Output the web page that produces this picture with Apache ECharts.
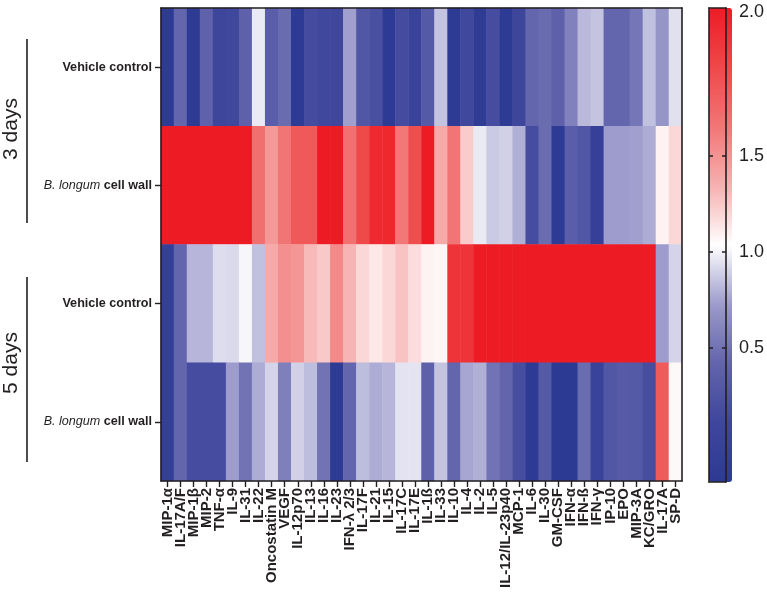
<!DOCTYPE html>
<html><head><meta charset="utf-8">
<script src="https://cdn.jsdelivr.net/npm/echarts@6/dist/echarts.min.js"></script>
<style>html,body{margin:0;padding:0;background:#fff}#c{width:767px;height:594px}</style>
</head><body><div id="c"></div>
<script>
// ---- data ----
const cytokines = ['MIP-1α','IL-17A/F','MIP-1β','MIP-2','TNF-α','IL-9','IL-31','IL-22','Oncostatin M','VEGF',
  'IL-12p70','IL-13','IL-16','IL-23','IFN-λ 2/3','IL-17F','IL-21','IL-15','IL-17C','IL-17E',
  'IL-1ß','IL-33','IL-10','IL-4','IL-2','IL-5','IL-12/IL-23p40','MCP-1','IL-6','IL-30',
  'GM-CSF','IFN-α','IFN-ß','IFN-γ','IP-10','EPO','MIP-3A','KC/GRO','IL-17A','SP-D'];
const rowKeys = ['3 days|Vehicle control','3 days|B. longum cell wall','5 days|Vehicle control','5 days|B. longum cell wall'];
const groupLabels = ['3 days','5 days'];

const day3Vehicle = [-0.18,0.43,-0.18,0.39,0.10,0.13,0.38,0.97,0.35,0.46,
  -0.18,0.17,0.13,0.12,0.74,0.28,0.20,-0.18,0.17,0.04,
  0.31,0.85,-0.18,0.13,-0.15,0.18,-0.18,0.10,0.43,0.46,
  0.38,0.58,0.82,0.85,0.43,0.43,0.52,0.84,0.69,0.94];
const day3BLongum = [2.27,2.27,2.27,2.27,2.27,2.27,2.27,1.70,1.47,1.66,
  1.85,1.85,2.27,2.27,1.69,1.95,2.17,2.18,1.64,1.92,
  2.27,1.38,1.66,1.24,0.97,0.87,0.89,0.79,0.18,0.46,
  -0.18,0.35,0.28,-0.04,0.73,0.73,0.74,0.78,1.085,1.19];
const day5Vehicle = [-0.07,0.43,0.81,0.81,0.93,0.92,1.01,0.84,1.38,1.52,
  1.48,1.31,1.25,1.55,1.33,1.19,1.13,1.19,1.27,1.17,
  1.08,1.07,2.10,2.10,2.27,2.27,2.27,2.27,2.27,2.27,
  2.27,2.27,2.27,2.27,2.27,2.27,2.27,2.27,0.73,0.90];
const day5BLongum = [-0.07,0.43,0.18,0.18,0.18,0.73,0.50,0.78,0.90,0.57,
  0.89,0.83,0.50,-0.18,0.43,0.83,0.78,0.81,0.95,0.95,
  0.38,0.85,0.43,0.76,0.79,0.50,0.42,0.19,-0.18,0.31,
  -0.20,-0.20,0.46,0.04,0.28,0.32,0.31,0.19,1.84,1.06];

const colorbarTickValues = [0.5, 1.0, 1.5];
const colorbarTopLabelValue = 2.25;
const colorbarTopLabel = '2.0';
const colorbarMin = -0.2;
const colorbarMax = 2.27;
const colorStops = ['#2D3A93','#3E469C','#6264AC','#9C9BCC','#FFFFFF','#F7B0B0','#F27676','#EF4848','#ED1C24'];

// ---- build ----
const rows = [day3Vehicle, day3BLongum, day5Vehicle, day5BLongum];
const heatData = [];
rows.forEach((vals, r) => vals.forEach((v, c) => heatData.push([c, r, v])));

const FONT = "'Liberation Sans', Arial, Helvetica, sans-serif";
const INK = '#231F20';
const line = {show: true, onZero: false, lineStyle: {color: INK, width: 1.6}};

const chart = echarts.init(document.getElementById('c'), null, {renderer: 'canvas'});
chart.setOption({
  animation: false,
  backgroundColor: '#ffffff',
  textStyle: {fontFamily: FONT},
  grid: [
    {left: 161, top: 8, width: 521, height: 473},
    {left: 709, top: 8, width: 23, height: 474}
  ],
  xAxis: [
    {gridIndex: 0, type: 'category', data: cytokines, position: 'bottom', z: 10,
      axisLine: line,
      axisTick: {show: true, alignWithLabel: true, length: 6, lineStyle: {color: INK, width: 1.4}},
      axisLabel: {rotate: 90, interval: 0, margin: 7, fontFamily: FONT, fontWeight: 'bold', fontSize: 15, color: INK},
      splitLine: {show: false}},
    {gridIndex: 0, type: 'category', data: cytokines, position: 'top', z: 10,
      axisLine: line, axisTick: {show: false}, axisLabel: {show: false}, splitLine: {show: false}},
    {gridIndex: 1, type: 'value', min: 0, max: 1, position: 'bottom', z: 10,
      axisLine: line, axisTick: {show: false}, axisLabel: {show: false}, splitLine: {show: false}},
    {gridIndex: 1, type: 'value', min: 0, max: 1, position: 'top', z: 10,
      axisLine: line, axisTick: {show: false}, axisLabel: {show: false}, splitLine: {show: false}}
  ],
  yAxis: [
    {gridIndex: 0, type: 'category', data: rowKeys, inverse: true, position: 'left', z: 10,
      axisLine: line,
      axisTick: {show: true, alignWithLabel: true, length: 6, lineStyle: {color: INK, width: 1.4}},
      axisLabel: {margin: 9, color: INK,
        formatter: function (v) {
          const name = v.split('|')[1];
          if (name.indexOf('B. longum') === 0) return '{i|B. longum} {b|cell wall}';
          return '{b|' + name + '}';
        },
        rich: {
          b: {fontFamily: FONT, fontWeight: 'bold', fontSize: 12.6, color: INK},
          i: {fontFamily: FONT, fontStyle: 'italic', fontWeight: 'normal', fontSize: 12.6, color: INK}
        }},
      splitLine: {show: false}},
    {gridIndex: 0, type: 'category', data: rowKeys, inverse: true, position: 'right', z: 10,
      axisLine: line, axisTick: {show: false}, axisLabel: {show: false}, splitLine: {show: false}},
    {gridIndex: 1, type: 'value', min: colorbarMin, max: colorbarMax, position: 'left', z: 10,
      axisLine: line,
      axisTick: {show: true, inside: true, length: 4, customValues: colorbarTickValues, lineStyle: {color: INK, width: 1.5}},
      axisLabel: {show: false}, splitLine: {show: false}},
    {gridIndex: 1, type: 'value', min: colorbarMin, max: colorbarMax, position: 'right', z: 10,
      axisLine: line,
      axisTick: {show: true, inside: true, length: 4, customValues: colorbarTickValues, lineStyle: {color: INK, width: 1.5}},
      axisLabel: {show: true, customValues: colorbarTickValues.concat([colorbarTopLabelValue]), margin: 13,
        fontFamily: FONT, fontSize: 18, color: INK,
        formatter: function (v) { return v > 2 ? colorbarTopLabel : v.toFixed(1); }},
      splitLine: {show: false}}
  ],
  visualMap: {
    type: 'continuous', min: colorbarMin, max: colorbarMax, seriesIndex: 0,
    calculable: false, hoverLink: false, left: 709, top: 8, itemWidth: 23, itemHeight: 474,
    padding: 0, z: 2, inRange: {color: colorStops}
  },
  graphic: [
    {type: 'line', shape: {x1: 27, y1: 39, x2: 27, y2: 223}, style: {stroke: INK, lineWidth: 1.6}},
    {type: 'line', shape: {x1: 27, y1: 277, x2: 27, y2: 462}, style: {stroke: INK, lineWidth: 1.6}},
    {type: 'text', x: 11, y: 129, rotation: Math.PI / 2,
      style: {text: groupLabels[0], font: '21px ' + FONT, fill: INK, align: 'center', verticalAlign: 'middle'}},
    {type: 'text', x: 11, y: 363, rotation: Math.PI / 2,
      style: {text: groupLabels[1], font: '21px ' + FONT, fill: INK, align: 'center', verticalAlign: 'middle'}}
  ],
  series: [{
    type: 'heatmap', xAxisIndex: 0, yAxisIndex: 0, data: heatData,
    itemStyle: {borderWidth: 0}, emphasis: {disabled: true}, progressive: 0
  }]
});
</script>
</body></html>
